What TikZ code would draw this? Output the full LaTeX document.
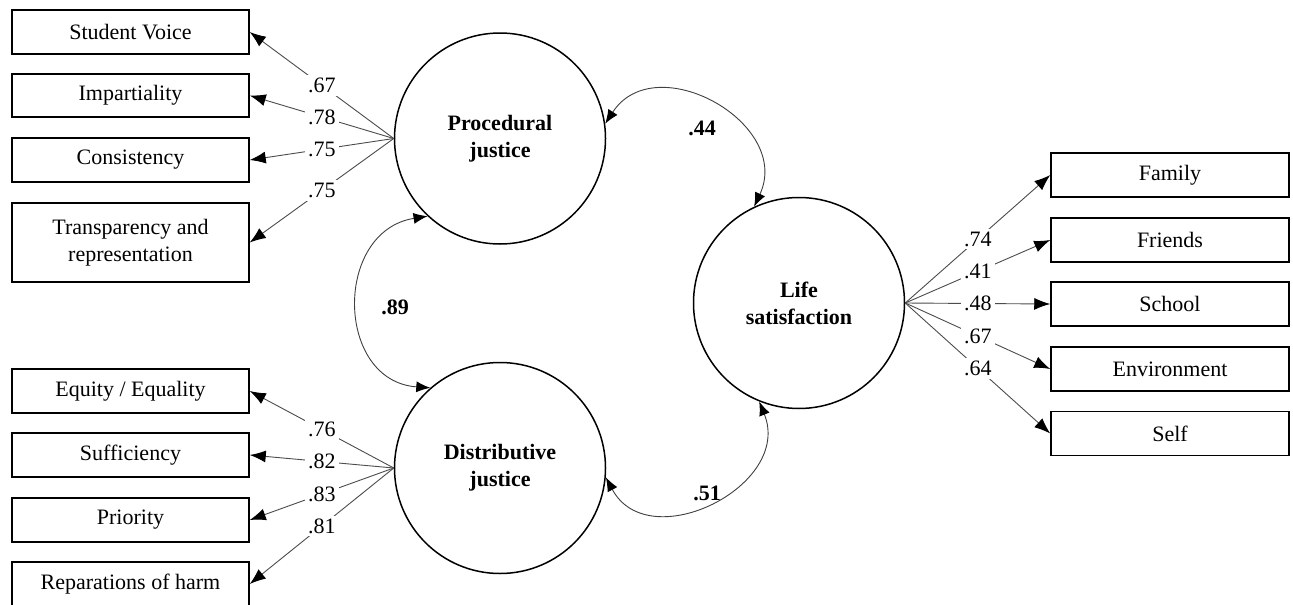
\documentclass[tikz,border=0pt]{standalone}
\usepackage{fontspec}
\setmainfont{Liberation Serif}
\usetikzlibrary{arrows.meta}
\begin{document}
\begin{tikzpicture}[x=1pt,y=-1pt,
  txt/.style={font=\fontsize{22}{27}\selectfont},
  latent/.style={circle,draw,line width=1.5pt,minimum size=211pt,inner sep=0pt,
    align=center,font=\fontsize{22}{27}\selectfont\bfseries},
  indicator/.style={rectangle,draw,line width=1.5pt,minimum width=237pt,
    minimum height=44pt,inner sep=2pt,align=center,txt},
  loading/.style={draw=black!70,line width=0.9pt,-{Latex[length=16pt,width=12pt,black]}},
  coef/.style={fill=white,inner sep=3pt,txt},
  cov/.style={draw=black!75,line width=0.9pt,
    {Latex[length=14pt,width=11pt,black]}-{Latex[length=14pt,width=11pt,black]}},
  covlab/.style={font=\fontsize{22}{27}\selectfont\bfseries}]

\fill[white] (0,0) rectangle (1293,605);
\useasboundingbox (0,0) rectangle (1293,605);

% latent factors
\node[latent] (pj) at (500,138.5) {Procedural\\justice};
\node[latent] (dj) at (500,468) {Distributive\\justice};
\node[latent] (ls) at (799,303) {Life\\satisfaction};

% procedural justice indicators
\node[indicator] (sv)  at (130.5,32)    {Student Voice};
\node[indicator,minimum height=43pt] (imp) at (130.5,95.5) {Impartiality};
\node[indicator] (con) at (130.5,160)   {Consistency};
\node[indicator,minimum height=79pt] (tr) at (130.5,242.5) {Transparency and\\representation};

% distributive justice indicators
\node[indicator] (eq)  at (130.5,391) {Equity / Equality};
\node[indicator] (suf) at (130.5,455) {Sufficiency};
\node[indicator] (pri) at (130.5,520) {Priority};
\node[indicator] (rep) at (130.5,584) {Reparations of harm};

% life satisfaction indicators
\node[indicator,minimum width=238pt] (fam) at (1170,175)   {Family};
\node[indicator,minimum width=238pt] (fri) at (1170,240)   {Friends};
\node[indicator,minimum width=238pt] (sch) at (1170,304)   {School};
\node[indicator,minimum width=238pt] (env) at (1170,369)   {Environment};
\node[indicator,minimum width=238pt] (slf) at (1170,433.5) {Self};

% loadings
\draw[loading] (pj.west) -- node[coef,pos=0.5]{.67} (sv.east);
\draw[loading] (pj.west) -- node[coef,pos=0.5]{.78} (imp.east);
\draw[loading] (pj.west) -- node[coef,pos=0.5]{.75} (con.east);
\draw[loading] (pj.west) -- node[coef,pos=0.5]{.75} (tr.east);

\draw[loading] (dj.west) -- node[coef,pos=0.5]{.76} (eq.east);
\draw[loading] (dj.west) -- node[coef,pos=0.5]{.82} (suf.east);
\draw[loading] (dj.west) -- node[coef,pos=0.5]{.83} (pri.east);
\draw[loading] (dj.west) -- node[coef,pos=0.5]{.81} (rep.east);

\draw[loading] (ls.east) -- node[coef,pos=0.5]{.74} (fam.west);
\draw[loading] (ls.east) -- node[coef,pos=0.5]{.41} (fri.west);
\draw[loading] (ls.east) -- node[coef,pos=0.5]{.48} (sch.west);
\draw[loading] (ls.east) -- node[coef,pos=0.5]{.67} (env.west);
\draw[loading] (ls.east) -- node[coef,pos=0.5]{.64} (slf.west);

% factor covariances
\draw[cov] (pj.8) to[out=57,in=65,looseness=1.38] (ls.115);
\draw[cov] (pj.227) to[out=189,in=176,looseness=1.42] (dj.131);
\draw[cov] (dj.355) to[out=298,in=292,looseness=1.36] (ls.248);

\node[covlab] (c44) at (702,128) {.44};
\node[covlab] (c89) at (395,307) {.89};
\node[covlab] (c51) at (707,493) {.51};
\end{tikzpicture}
\end{document}
